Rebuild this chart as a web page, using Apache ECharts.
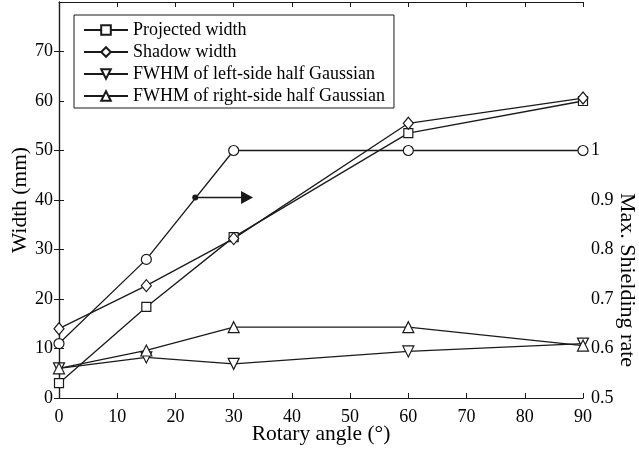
<!DOCTYPE html>
<html>
<head>
<meta charset="utf-8">
<script src="https://cdn.jsdelivr.net/npm/echarts@6/dist/echarts.min.js"></script>
<style>
html,body{margin:0;padding:0;background:#fff;}
#main{width:639px;height:451px;}
</style>
</head>
<body>
<div id="main"></div>
<script>
// ---- Data ----
var angles = [0, 15, 30, 60, 90];
var projectedWidth = [3, 18.4, 32.5, 53.5, 60];
var shadowWidth = [14, 22.7, 32.2, 55.5, 60.6];
var fwhmLeft = [6, 8.2, 6.9, 9.4, 11];
var fwhmRight = [6, 9.6, 14.3, 14.3, 10.6];
var shieldingRate = [0.61, 0.78, 1, 1, 1];
var arrowStart = [23.4, 0.905];
var arrowEnd = [32.3, 0.905];
var xTicks = [0, 10, 20, 30, 40, 50, 60, 70, 80, 90];
var rightTickLabels = [0.5, 0.6, 0.7, 0.8, 0.9, 1];
var rightTicks = [0.5, 0.6, 0.7, 0.8, 0.9, 1, 1.2];
var seriesNames = ['Projected width', 'Shadow width', 'FWHM of left-side half Gaussian', 'FWHM of right-side half Gaussian'];

function pairs(xs, ys) { return xs.map(function (x, i) { return [x, ys[i]]; }); }

var FONT = "'Liberation Serif', 'Times New Roman', serif";
var INK = '#1a1a1a';
var lineStyle = { color: INK, width: 1.3 };
var itemStyle = { color: '#fff', borderColor: INK, borderWidth: 1.2 };

function mkSeries(name, data, symbol, size, yIndex) {
  return {
    name: name, type: 'line', data: pairs(angles, data), yAxisIndex: yIndex || 0,
    symbol: symbol, symbolSize: size, showAllSymbol: true,
    lineStyle: lineStyle, itemStyle: itemStyle, emphasis: { disabled: true },
    animation: false, z: 3
  };
}

var chart = echarts.init(document.getElementById('main'), null, { renderer: 'canvas' });
var axisCommon = {
  axisLine: { show: true, lineStyle: { color: INK, width: 1.2 } },
  axisTick: { show: true, inside: true, length: 5, lineStyle: { color: INK, width: 1 } },
  splitLine: { show: false },
  axisLabel: { color: '#000', fontFamily: FONT, fontSize: 18 },
  nameMoveOverlap: false
};

var option = {
  backgroundColor: '#fff',
  animation: false,
  textStyle: { fontFamily: FONT },
  grid: { left: 59, right: 56, top: 2, bottom: 53, containLabel: false, outerBoundsMode: 'none' },
  legend: {
    data: seriesNames,
    orient: 'vertical', left: 74, top: 15,
    backgroundColor: '#fff',
    borderColor: INK, borderWidth: 1,
    padding: [6, 9, 3, 9],
    itemWidth: 44, itemHeight: 12, itemGap: 4,
    textStyle: { fontFamily: FONT, fontSize: 18, color: '#000', lineHeight: 18 },
    selectedMode: false
  },
  xAxis: [
    Object.assign({}, axisCommon, {
      type: 'value', min: 0, max: 90, interval: 10, position: 'bottom',
      name: 'Rotary angle (°)', nameLocation: 'middle', nameGap: 25,
      nameTextStyle: { fontFamily: FONT, fontSize: 21.5, color: '#000' },
      axisLabel: { color: '#000', fontFamily: FONT, fontSize: 18, margin: 10 }
    }),
    Object.assign({}, axisCommon, {
      type: 'value', min: 0, max: 90, interval: 10, position: 'top',
      axisLabel: { show: false }
    })
  ],
  yAxis: [
    Object.assign({}, axisCommon, {
      type: 'value', min: 0, max: 80, interval: 10, position: 'left',
      name: 'Width (mm)', nameLocation: 'middle', nameGap: 28,
      nameTextStyle: { fontFamily: FONT, fontSize: 21.5, color: '#000' },
      axisLabel: { color: '#000', fontFamily: FONT, fontSize: 18, margin: 6, showMaxLabel: false }
    }),
    Object.assign({}, axisCommon, {
      type: 'value', min: 0.5, max: 1.3, interval: 0.1, position: 'right',
      name: 'Max. Shielding rate', nameLocation: 'middle', nameGap: 33, nameRotate: -90,
      nameTextStyle: { fontFamily: FONT, fontSize: 22, color: '#000', padding: [0, 0, 0, 160] },
      axisTick: { show: true, inside: true, length: 5, lineStyle: { color: INK, width: 1 }, customValues: rightTicks },
      axisLabel: { color: '#000', fontFamily: FONT, fontSize: 18, margin: 8, customValues: rightTickLabels,
        formatter: function (v) { return String(Math.round(v * 10) / 10); } }
    })
  ],
  series: [
    (function () {
      var s = mkSeries('Max. Shielding rate', shieldingRate, 'circle', 10, 1);
      s.markLine = {
        silent: true, animation: false,
        symbol: ['circle', 'triangle'], symbolSize: [6, 13],
        label: { show: false },
        lineStyle: { color: INK, width: 1.3, type: 'solid' },
        itemStyle: { color: INK },
        data: [[{ coord: arrowStart, symbol: 'circle', symbolSize: 6 }, { coord: arrowEnd, symbol: 'triangle', symbolSize: [13, 12] }]]
      };
      return s;
    })(),
    mkSeries(seriesNames[0], projectedWidth, 'rect', 9),
    mkSeries(seriesNames[1], shadowWidth, 'diamond', [10, 12]),
    mkSeries(seriesNames[2], fwhmLeft, 'path://M0,0 L10,0 L5,9 Z', 11),
    mkSeries(seriesNames[3], fwhmRight, 'triangle', 11)
  ]
};
chart.setOption(option);
</script>
</body>
</html>
